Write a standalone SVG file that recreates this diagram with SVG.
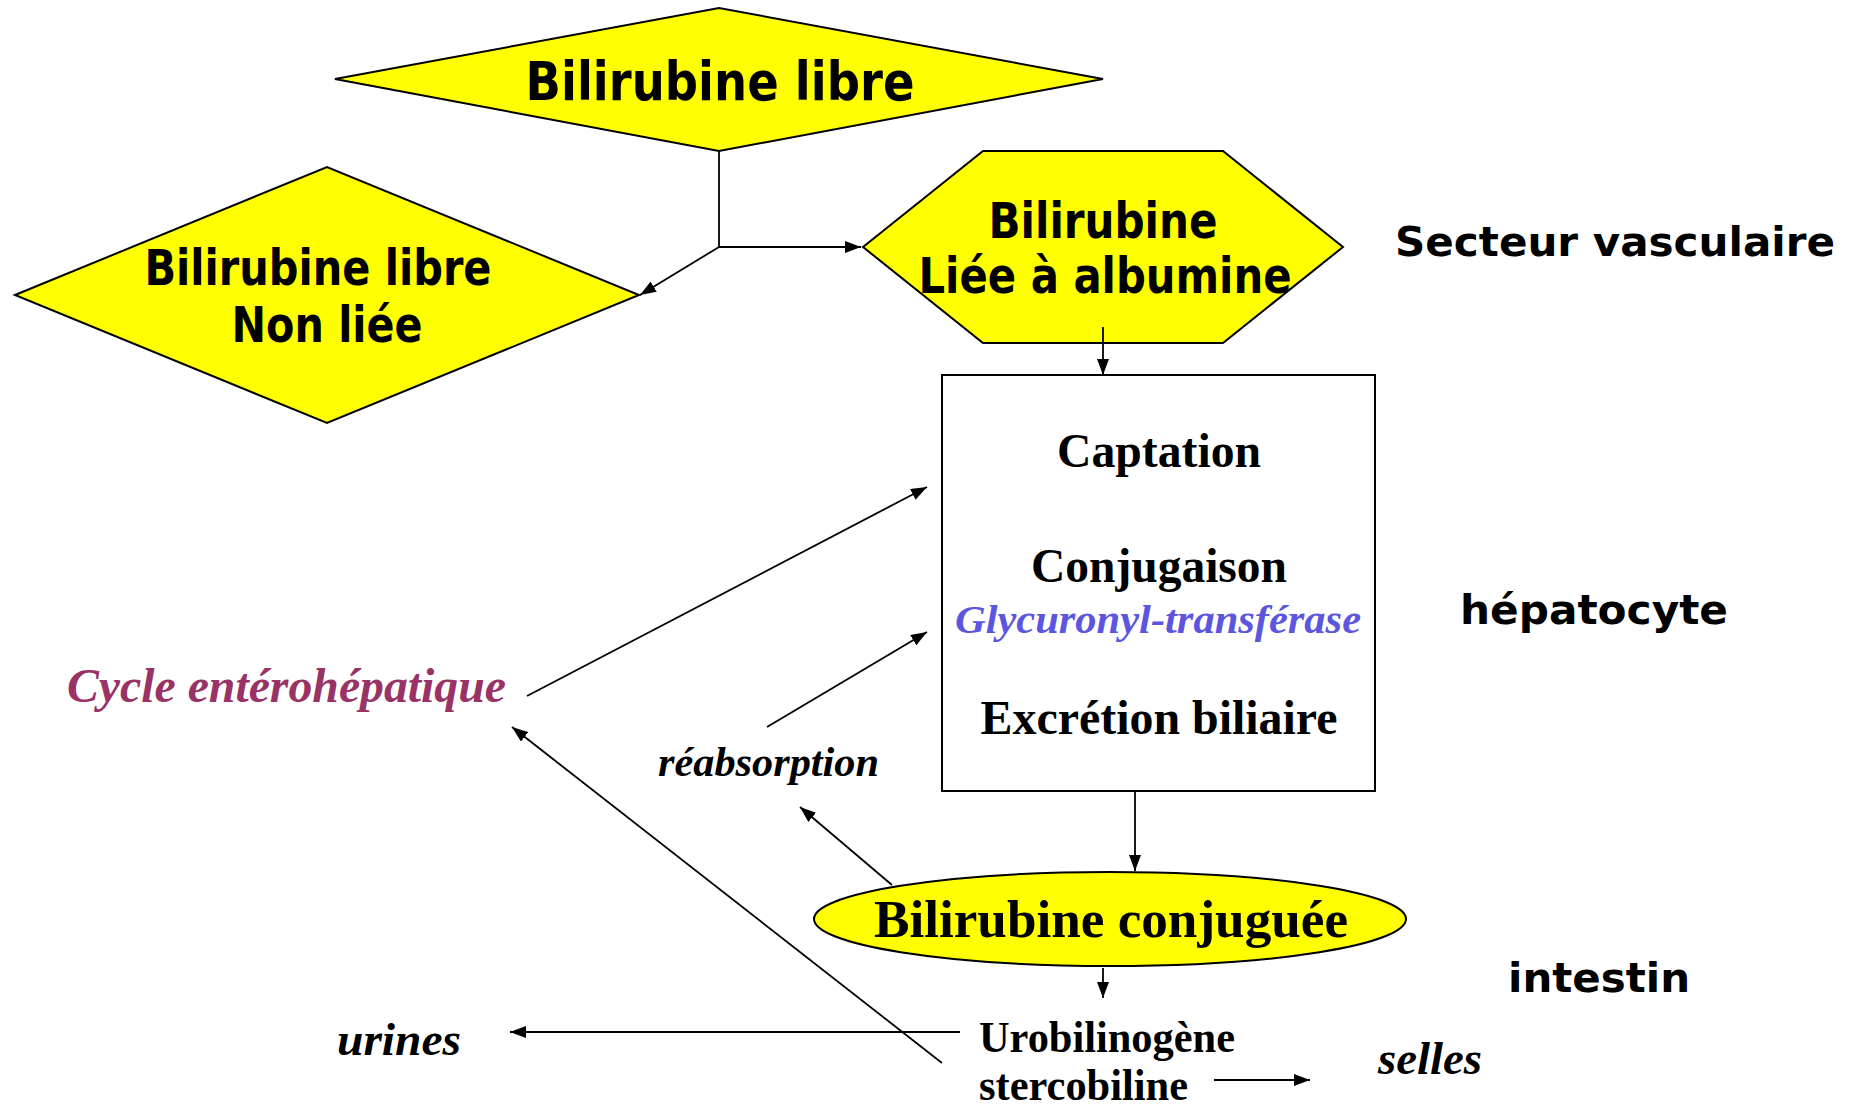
<svg xmlns="http://www.w3.org/2000/svg" width="1858" height="1107" viewBox="0 0 1858 1107">
  <style>
    .shape { fill: #ffff00; stroke: #000; stroke-width: 2; }
    .box { fill: #fff; stroke: #000; stroke-width: 2; }
    .sans { font-family: "DejaVu Sans", Verdana, sans-serif; font-weight: bold; fill: #000; }
    .serif { font-family: "Liberation Serif", "Times New Roman", serif; font-weight: bold; fill: #000; }
    .it { font-style: italic; }
    .conn { fill: none; stroke: #000; stroke-width: 1.8; marker-end: url(#arrow); }
  </style>
  <defs>
    <marker id="arrow" viewBox="0 0 16 12" refX="16" refY="6" markerWidth="16" markerHeight="12" markerUnits="userSpaceOnUse" orient="auto">
      <path d="M0,0 L16,6 L0,12 z" fill="#000"/>
    </marker>
  </defs>
  <rect width="1858" height="1107" fill="#fff"/>

  <g id="node-bilirubine-libre">
    <polygon class="shape" points="335,79 719,8 1103,79 719,151"/>
    <text class="sans" x="720" y="100" font-size="53" text-anchor="middle" textLength="389" lengthAdjust="spacingAndGlyphs">Bilirubine libre</text>
  </g>

  <g id="node-non-liee">
    <polygon class="shape" points="15,295 327,167 639,295 327,423"/>
    <text class="sans" x="318" y="285" font-size="49" text-anchor="middle" textLength="347" lengthAdjust="spacingAndGlyphs">Bilirubine libre</text>
    <text class="sans" x="327" y="342" font-size="49" text-anchor="middle" textLength="191" lengthAdjust="spacingAndGlyphs">Non liée</text>
  </g>

  <g id="node-liee-albumine">
    <polygon class="shape" points="863,247 983,151 1223,151 1343,247 1223,343 983,343"/>
    <text class="sans" x="1103" y="238" font-size="49" text-anchor="middle" textLength="229" lengthAdjust="spacingAndGlyphs">Bilirubine</text>
    <text class="sans" x="1105" y="293" font-size="49" text-anchor="middle" textLength="373" lengthAdjust="spacingAndGlyphs">Liée à albumine</text>
  </g>

  <g id="node-hepatocyte-box">
    <rect class="box" x="942" y="375" width="433" height="416"/>
    <text class="serif" x="1159" y="467" font-size="48" text-anchor="middle" textLength="204" lengthAdjust="spacingAndGlyphs">Captation</text>
    <text class="serif" x="1159" y="582" font-size="48" text-anchor="middle" textLength="256" lengthAdjust="spacingAndGlyphs">Conjugaison</text>
    <text class="serif it" x="1158" y="633" font-size="40" text-anchor="middle" style="fill:#5b55e0" textLength="406" lengthAdjust="spacingAndGlyphs">Glycuronyl-transférase</text>
    <text class="serif" x="1159" y="734" font-size="48" text-anchor="middle" textLength="357" lengthAdjust="spacingAndGlyphs">Excrétion biliaire</text>
  </g>

  <g id="node-conjuguee">
    <ellipse class="shape" cx="1110" cy="919" rx="296" ry="47"/>
    <text class="serif" x="1111" y="937" font-size="52" text-anchor="middle" textLength="474" lengthAdjust="spacingAndGlyphs">Bilirubine conjuguée</text>
  </g>

  <g id="node-urobilinogene">
    <text class="serif" x="979" y="1052" font-size="45" textLength="256" lengthAdjust="spacingAndGlyphs">Urobilinogène</text>
    <text class="serif" x="979" y="1100" font-size="45" textLength="209" lengthAdjust="spacingAndGlyphs">stercobiline</text>
  </g>

  <g id="node-urines">
    <text class="serif it" x="337" y="1055" font-size="46" textLength="124" lengthAdjust="spacingAndGlyphs">urines</text>
  </g>

  <g id="node-selles">
    <text class="serif it" x="1378" y="1074" font-size="46" textLength="104" lengthAdjust="spacingAndGlyphs">selles</text>
  </g>

  <g id="node-cycle">
    <text class="serif it" x="67" y="702" font-size="48" style="fill:#993366" textLength="439" lengthAdjust="spacingAndGlyphs">Cycle entérohépatique</text>
  </g>

  <g id="node-reabsorption">
    <text class="serif it" x="658" y="776" font-size="42" textLength="221" lengthAdjust="spacingAndGlyphs">réabsorption</text>
  </g>

  <g id="label-secteur">
    <text class="sans" x="1395" y="256" font-size="41" textLength="440" lengthAdjust="spacingAndGlyphs">Secteur vasculaire</text>
  </g>
  <g id="label-hepatocyte">
    <text class="sans" x="1460" y="624" font-size="41" textLength="268" lengthAdjust="spacingAndGlyphs">hépatocyte</text>
  </g>
  <g id="label-intestin">
    <text class="sans" x="1508" y="992" font-size="41" textLength="182" lengthAdjust="spacingAndGlyphs">intestin</text>
  </g>

  <g id="connectors">
    <path class="conn" d="M719,151 V247 H861"/>
    <path class="conn" d="M719,247 L640,295"/>
    <path class="conn" d="M1103,327 V375"/>
    <path class="conn" d="M1135,791 V871"/>
    <path class="conn" d="M1103,968 V998"/>
    <path class="conn" d="M960,1032 H510"/>
    <path class="conn" d="M1214,1080 H1310"/>
    <path class="conn" d="M942,1063 L512,727"/>
    <path class="conn" d="M892,885 L800,807"/>
    <path class="conn" d="M767,727 L927,632"/>
    <path class="conn" d="M527,696 L927,487"/>
  </g>
</svg>
